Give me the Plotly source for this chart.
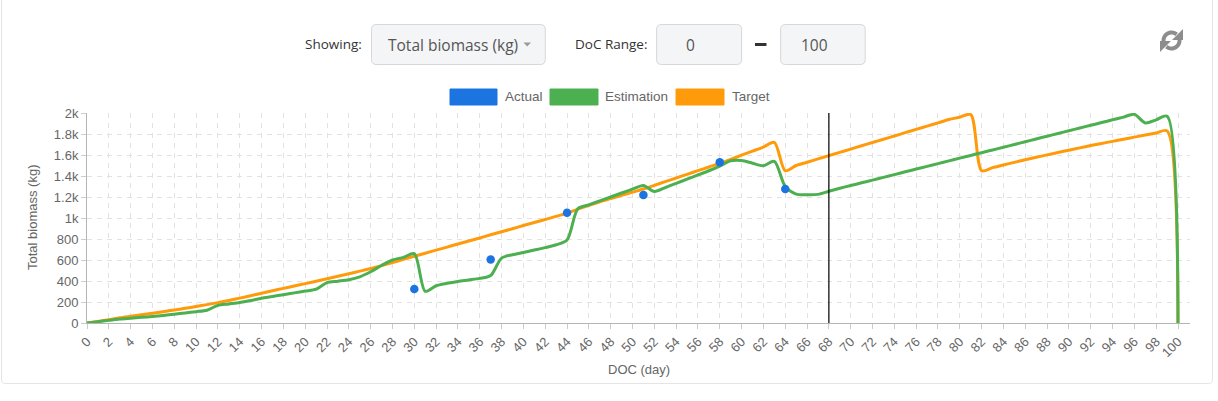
import math
import plotly.graph_objects as go

# ---------------- data ----------------
doc = list(range(0, 101))

target = [
    0, 15, 32, 50, 64, 78, 92, 108, 124, 140,
    157, 175, 194, 215, 237, 260, 284, 307, 330, 352,
    375, 398, 421, 445, 469, 494, 519, 547, 576, 606,
    636, 665, 694, 723, 752, 781, 810, 840, 869, 898,
    928, 957, 986, 1015, 1047, 1085, 1120, 1155, 1185, 1215,
    1246, 1276, 1311, 1346, 1381, 1416, 1451, 1486, 1520, 1559,
    1598, 1637, 1676, 1720, 1450, 1500, 1531, 1563, 1594, 1625,
    1656, 1688, 1719, 1750, 1781, 1813, 1844, 1875, 1906, 1938,
    1960, 1985, 1450, 1480, 1505, 1530, 1555, 1578, 1601, 1624,
    1646, 1668, 1690, 1710, 1730, 1750, 1770, 1790, 1810, 1830,
    0,
]

estimation = [
    0, 12, 25, 38, 46, 54, 62, 72, 84, 96,
    108, 122, 168, 182, 196, 214, 236, 252, 270, 287,
    304, 322, 385, 398, 412, 440, 488, 548, 600, 625,
    660, 302, 355, 378, 396, 410, 425, 452, 618, 650,
    672, 695, 718, 745, 790, 1090, 1125, 1163, 1200, 1238,
    1275, 1310, 1252, 1290, 1330, 1370, 1410, 1450, 1495, 1545,
    1548, 1522, 1498, 1540, 1300, 1228, 1222, 1225, 1255, 1283,
    1309, 1335, 1361, 1387, 1413, 1440, 1466, 1492, 1518, 1544,
    1570, 1596, 1622, 1648, 1674, 1700, 1726, 1753, 1779, 1805,
    1831, 1857, 1883, 1909, 1935, 1961, 1987, 1905, 1935, 1970,
    0,
]

actual_doc = [30, 37, 44, 51, 58, 64]
actual = [323, 604, 1049, 1219, 1532, 1276]

today_doc = 68

x_ticks = list(range(0, 101, 2))
y_ticks = list(range(0, 2001, 200))
y_tick_text = ["0", "200", "400", "600", "800", "1k", "1.2k", "1.4k", "1.6k", "1.8k", "2k"]

series_names = ["Actual", "Estimation", "Target"]

BLUE = "#1b74e0"
GREEN = "#4caf50"
ORANGE = "#ff9a0a"

# ---------------- layout helpers (pixel -> paper) ----------------
W, H = 1218, 401
L, R, T, B = 87, 1190, 113, 323


def px(x):
    return (x - L) / (R - L)


def py(y):
    return (B - y) / (B - T)


def pt(x, y):
    return f"{px(x):.5f},{py(y):.5f}"


def rrect(x0, y0, x1, y1, r):
    return (f"M {pt(x0 + r, y0)} L {pt(x1 - r, y0)} Q {pt(x1, y0)} {pt(x1, y0 + r)} "
            f"L {pt(x1, y1 - r)} Q {pt(x1, y1)} {pt(x1 - r, y1)} "
            f"L {pt(x0 + r, y1)} Q {pt(x0, y1)} {pt(x0, y1 - r)} "
            f"L {pt(x0, y0 + r)} Q {pt(x0, y0)} {pt(x0 + r, y0)} Z")


def arc(cx, cy, r, a0, a1, n=24):
    pts = []
    for i in range(n + 1):
        a = math.radians(a0 + (a1 - a0) * i / n)
        pts.append(pt(cx + r * math.cos(a), cy - r * math.sin(a)))
    return "M " + " L ".join(pts)


fig = go.Figure()

fig.add_trace(go.Scatter(
    x=doc, y=target, mode="lines", name=series_names[2],
    line=dict(color=ORANGE, width=3, shape="spline", smoothing=0.8),
    hoverinfo="skip",
))
fig.add_trace(go.Scatter(
    x=doc, y=estimation, mode="lines", name=series_names[1],
    line=dict(color=GREEN, width=3, shape="spline", smoothing=0.8),
    hoverinfo="skip",
))
fig.add_trace(go.Scatter(
    x=actual_doc, y=actual, mode="markers", name=series_names[0],
    marker=dict(color=BLUE, size=8.5),
    hoverinfo="skip",
))

CHART_FONT = "Liberation Sans, Arial, sans-serif"
UI_FONT = "Open Sans, sans-serif"

shapes = []
annotations = []

# today marker
shapes.append(dict(type="line", xref="x", yref="paper", x0=today_doc, x1=today_doc,
                   y0=0, y1=1, line=dict(color="#000000", width=1.2)))

# card border
shapes.append(dict(type="path", xref="paper", yref="paper",
                   path=rrect(1.5, -10, 1212.5, 383.5, 4),
                   line=dict(color="#e4e4e4", width=1), fillcolor="rgba(0,0,0,0)", layer="below"))

# legend
legend_items = [
    (450, 497, 503, series_names[0], BLUE),
    (550, 598, 603, series_names[1], GREEN),
    (676, 724, 730, series_names[2], ORANGE),
]
for x0, x1, tx, name, col in legend_items:
    shapes.append(dict(type="rect", xref="paper", yref="paper",
                       x0=px(x0), x1=px(x1), y0=py(105), y1=py(89),
                       fillcolor=col, line=dict(color=col, width=1)))
    annotations.append(dict(xref="paper", yref="paper", x=px(tx), y=py(96),
                            text=name, showarrow=False, xanchor="left", yanchor="middle",
                            font=dict(family=CHART_FONT, size=13.5, color="#666666")))

# top controls
BOX_FILL = "#f4f5f7"
BOX_LINE = "#d5d7da"
TOP, BOT = 24.5, 64.5
MID = (TOP + BOT) / 2
shapes.append(dict(type="path", xref="paper", yref="paper", path=rrect(371.5, TOP, 545.3, BOT, 5),
                   fillcolor=BOX_FILL, line=dict(color=BOX_LINE, width=1)))
shapes.append(dict(type="path", xref="paper", yref="paper", path=rrect(656.6, TOP, 741.6, BOT, 5),
                   fillcolor=BOX_FILL, line=dict(color=BOX_LINE, width=1)))
shapes.append(dict(type="path", xref="paper", yref="paper", path=rrect(780.6, TOP, 865.2, BOT, 5),
                   fillcolor=BOX_FILL, line=dict(color=BOX_LINE, width=1)))
# caret
shapes.append(dict(type="path", xref="paper", yref="paper",
                   path=f"M {pt(523.5, MID - 2)} L {pt(531, MID - 2)} L {pt(527.2, MID + 2)} Z",
                   fillcolor="#9a9a9a", line=dict(color="#9a9a9a", width=0)))
# dash between inputs
shapes.append(dict(type="line", xref="paper", yref="paper",
                   x0=px(755), x1=px(766.5), y0=py(MID), y1=py(MID),
                   line=dict(color="#333333", width=3)))

annotations += [
    dict(xref="paper", yref="paper", x=px(303), y=py(MID - 1), text="Showing:", showarrow=False,
         xanchor="left", yanchor="middle", font=dict(family=UI_FONT, size=13.5, color="#333333")),
    dict(xref="paper", yref="paper", x=px(386), y=py(MID), text="Total biomass (kg)", showarrow=False,
         xanchor="left", yanchor="middle", font=dict(family=UI_FONT, size=15.5, color="#555555")),
    dict(xref="paper", yref="paper", x=px(573), y=py(MID - 1), text="DoC Range:", showarrow=False,
         xanchor="left", yanchor="middle", font=dict(family=UI_FONT, size=13.5, color="#333333")),
    dict(xref="paper", yref="paper", x=px(690.7), y=py(MID), text="0", showarrow=False,
         xanchor="center", yanchor="middle", font=dict(family=UI_FONT, size=15.5, color="#555555")),
    dict(xref="paper", yref="paper", x=px(814.5), y=py(MID), text="100", showarrow=False,
         xanchor="center", yanchor="middle", font=dict(family=UI_FONT, size=15.5, color="#555555")),
]

# refresh icon
cx, cy, rr = 1171.5, 40.5, 8.0
ICON = "#8d8d8d"
shapes.append(dict(type="path", xref="paper", yref="paper", path=arc(cx, cy, rr, 195, 50),
                   line=dict(color=ICON, width=4)))
shapes.append(dict(type="path", xref="paper", yref="paper", path=arc(cx, cy, rr, 15, -130),
                   line=dict(color=ICON, width=4)))
shapes.append(dict(type="path", xref="paper", yref="paper",
                   path=f"M {pt(cx + 11.5, cy - 11.5)} L {pt(cx + 11.5, cy - 0.5)} L {pt(cx + 0.5, cy - 0.5)} Z",
                   fillcolor=ICON, line=dict(color=ICON, width=0)))
shapes.append(dict(type="path", xref="paper", yref="paper",
                   path=f"M {pt(cx - 11.5, cy + 11.5)} L {pt(cx - 11.5, cy + 0.5)} L {pt(cx - 0.5, cy + 0.5)} Z",
                   fillcolor=ICON, line=dict(color=ICON, width=0)))

# axis titles
annotations += [
    dict(xref="paper", yref="paper", x=px(639), y=py(369), text="DOC (day)", showarrow=False,
         xanchor="center", yanchor="middle", font=dict(family=CHART_FONT, size=13, color="#666666")),
    dict(xref="paper", yref="paper", x=px(32), y=py(217), text="Total biomass (kg)", showarrow=False,
         textangle=-90, xanchor="center", yanchor="middle",
         font=dict(family=CHART_FONT, size=13, color="#666666")),
]

GRID = "#e2e2e2"
fig.update_layout(
    width=W, height=H,
    margin=dict(l=L, r=W - R, t=T, b=H - B, pad=0),
    paper_bgcolor="#ffffff", plot_bgcolor="#ffffff",
    showlegend=False,
    font=dict(family=CHART_FONT, size=13, color="#666666"),
    shapes=shapes,
    annotations=annotations,
    xaxis=dict(
        range=[0, 101.1], tickmode="array", tickvals=x_ticks, ticktext=[str(v) for v in x_ticks],
        tickangle=-45, showgrid=True, gridcolor=GRID, griddash="5px,5px", gridwidth=1,
        zeroline=False, showline=True, linecolor="#b5b5b5", linewidth=1,
        ticks="outside", ticklen=5, tickcolor="#cccccc",
        tickfont=dict(family=CHART_FONT, size=13, color="#666666"),
        fixedrange=True,
    ),
    yaxis=dict(
        range=[0, 2000], tickmode="array", tickvals=y_ticks, ticktext=y_tick_text,
        showgrid=True, gridcolor=GRID, griddash="5px,5px", gridwidth=1,
        zeroline=False, showline=True, linecolor="#b5b5b5", linewidth=1,
        ticks="outside", ticklen=5, tickcolor="#cccccc",
        tickfont=dict(family=CHART_FONT, size=13, color="#666666"),
        fixedrange=True,
    ),
)

fig.write_html(
    "out.html",
    include_plotlyjs=True,
    full_html=True,
    config={"displayModeBar": False, "staticPlot": False},
    post_script="document.body.style.margin='0';document.body.style.overflow='hidden';",
)
